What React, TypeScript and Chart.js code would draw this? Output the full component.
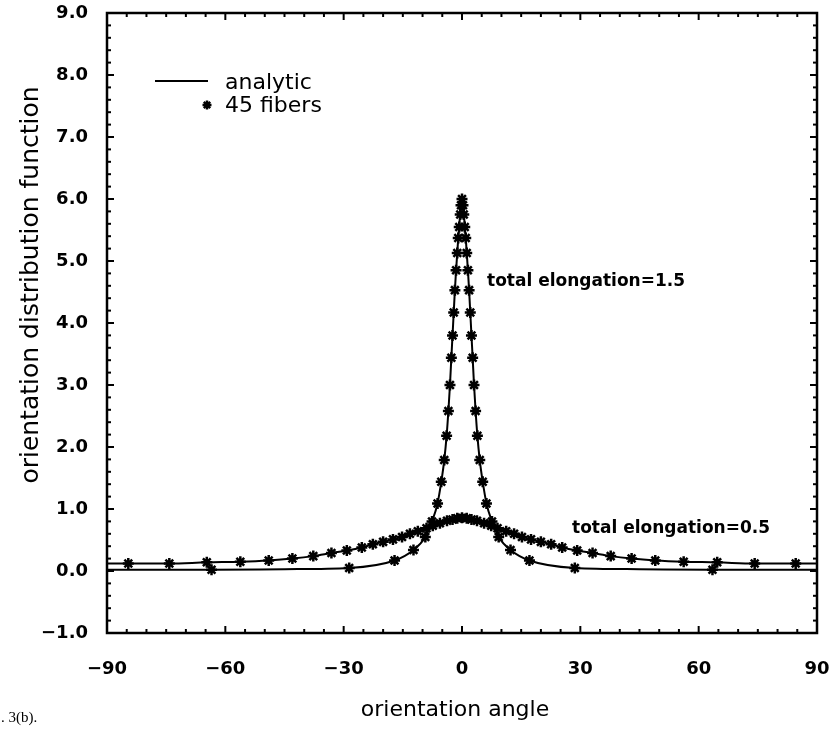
import React, { useEffect, useRef } from "react";
import { Chart, registerables } from "chart.js";

Chart.register(...registerables);

// ---- axis ticks ----
const xTickValues = [-90, -60, -30, 0, 30, 60, 90];
const yTickValues = [-1, 0, 1, 2, 3, 4, 5, 6, 7, 8, 9];

// ---- total elongation = 1.5 : 45 fibers (markers) ----
const fibersA_angle = [
  -63.5, -28.6, -17.1, -12.3, -9.3, -7.6, -6.2, -5.25, -4.5, -3.9, -3.45,
  -3.05, -2.7, -2.4, -2.1, -1.8, -1.5, -1.2, -0.95, -0.7, -0.45, -0.25,
  0,
  0.25, 0.45, 0.7, 0.95, 1.2, 1.5, 1.8, 2.1, 2.4, 2.7, 3.05, 3.45, 3.9,
  4.5, 5.25, 6.2, 7.6, 9.3, 12.3, 17.1, 28.6, 63.5,
];
const fibersA_value = [
  0.02, 0.05, 0.17, 0.34, 0.55, 0.8, 1.09, 1.44, 1.79, 2.18, 2.58,
  3.0, 3.44, 3.8, 4.17, 4.53, 4.85, 5.13, 5.37, 5.55, 5.75, 5.9,
  6.0,
  5.9, 5.75, 5.55, 5.37, 5.13, 4.85, 4.53, 4.17, 3.8, 3.44, 3.0, 2.58, 2.18,
  1.79, 1.44, 1.09, 0.8, 0.55, 0.34, 0.17, 0.05, 0.02,
];

// ---- total elongation = 0.5 : 45 fibers (markers) ----
const fibersB_angle = [
  -84.6, -74.2, -64.7, -56.2, -49.0, -43.0, -37.7, -33.1, -29.2, -25.4, -22.6,
  -20.0, -17.5, -15.2, -13.2, -11.2, -9.0, -7.4, -5.6, -3.8, -2.4, -1.2,
  0,
  1.2, 2.4, 3.8, 5.6, 7.4, 9.0, 11.2, 13.2, 15.2, 17.5, 20.0, 22.6, 25.4,
  29.2, 33.1, 37.7, 43.0, 49.0, 56.2, 64.7, 74.2, 84.6,
];
const fibersB_value = [
  0.12, 0.12, 0.14, 0.15, 0.17, 0.2, 0.24, 0.29, 0.33, 0.38, 0.43,
  0.47, 0.51, 0.55, 0.6, 0.64, 0.69, 0.73, 0.77, 0.81, 0.83, 0.85,
  0.86,
  0.85, 0.83, 0.81, 0.77, 0.73, 0.69, 0.64, 0.6, 0.55, 0.51, 0.47, 0.43, 0.38,
  0.33, 0.29, 0.24, 0.2, 0.17, 0.15, 0.14, 0.12, 0.12,
];

// ---- analytic curves ----
const analyticA_angle = [
  -90, -75, -63.5, -45, -28.6, -17.1, -12.3, -9.3, -7.6, -6.2, -5.25, -4.5,
  -3.9, -3.45, -3.05, -2.7, -2.4, -2.1, -1.8, -1.5, -1.2, -0.95, -0.7, -0.45,
  -0.25, 0, 0.25, 0.45, 0.7, 0.95, 1.2, 1.5, 1.8, 2.1, 2.4, 2.7, 3.05, 3.45,
  3.9, 4.5, 5.25, 6.2, 7.6, 9.3, 12.3, 17.1, 28.6, 45, 63.5, 75, 90,
];
const analyticA_value = [
  0.02, 0.02, 0.02, 0.03, 0.05, 0.17, 0.34, 0.55, 0.8, 1.09, 1.44, 1.79,
  2.18, 2.58, 3.0, 3.44, 3.8, 4.17, 4.53, 4.85, 5.13, 5.37, 5.57, 5.78,
  5.93, 6.05, 5.93, 5.78, 5.57, 5.37, 5.13, 4.85, 4.53, 4.17, 3.8, 3.44, 3.0, 2.58,
  2.18, 1.79, 1.44, 1.09, 0.8, 0.55, 0.34, 0.17, 0.05, 0.03, 0.02, 0.02, 0.02,
];
const analyticB_angle = [
  -90, -84.6, -74.2, -64.7, -56.2, -49.0, -43.0, -37.7, -33.1, -29.2, -25.4,
  -22.6, -20.0, -17.5, -15.2, -13.2, -11.2, -9.0, -7.4, -5.6, -3.8, -2.4, -1.2,
  0, 1.2, 2.4, 3.8, 5.6, 7.4, 9.0, 11.2, 13.2, 15.2, 17.5, 20.0, 22.6, 25.4,
  29.2, 33.1, 37.7, 43.0, 49.0, 56.2, 64.7, 74.2, 84.6, 90,
];
const analyticB_value = [
  0.12, 0.12, 0.12, 0.14, 0.15, 0.17, 0.2, 0.24, 0.29, 0.33, 0.38,
  0.43, 0.47, 0.51, 0.55, 0.6, 0.64, 0.69, 0.73, 0.77, 0.81, 0.83, 0.85,
  0.86, 0.85, 0.83, 0.81, 0.77, 0.73, 0.69, 0.64, 0.6, 0.55, 0.51, 0.47, 0.43, 0.38,
  0.33, 0.29, 0.24, 0.2, 0.17, 0.15, 0.14, 0.12, 0.12, 0.12,
];

const xTitle = "orientation angle";
const yTitle = "orientation distribution function";
const legendLine = "analytic";
const legendMarker = "45 fibers";
const labelA = "total elongation=1.5";
const labelB = "total elongation=0.5";
const figLabel = ". 3(b).";

const toPoints = (xs: number[], ys: number[]) => xs.map((x, i) => ({ x, y: ys[i] }));

const fmt = (v: number) => v.toFixed(1).replace("-", "\u2212");

const framePlugin = {
  id: "frameAndText",
  afterDraw(chart: any) {
    const { ctx, chartArea: a, scales } = chart;
    const xs = scales.x;
    const ys = scales.y;
    ctx.save();
    ctx.strokeStyle = "#000";
    ctx.fillStyle = "#000";
    ctx.lineCap = "butt";

    const seg = (x1: number, y1: number, x2: number, y2: number) => {
      ctx.beginPath();
      ctx.moveTo(x1, y1);
      ctx.lineTo(x2, y2);
      ctx.stroke();
    };

    // inward ticks on four sides
    ctx.lineWidth = 2;
    for (let i = 0; i <= 36; i++) {
      const v = -90 + i * 5;
      const px = xs.getPixelForValue(v);
      const len = i % 6 === 0 ? 7 : 4;
      seg(px, a.bottom, px, a.bottom - len);
      seg(px, a.top, px, a.top + len);
    }
    for (let i = 0; i <= 50; i++) {
      const v = -1 + i * 0.2;
      const py = ys.getPixelForValue(v);
      const len = i % 5 === 0 ? 7 : 4;
      seg(a.left, py, a.left + len, py);
      seg(a.right, py, a.right - len, py);
    }

    // frame
    ctx.lineWidth = 2.5;
    ctx.strokeRect(a.left, a.top, a.right - a.left, a.bottom - a.top);

    // tick labels
    ctx.font = "bold 18px 'DejaVu Sans'";
    ctx.textBaseline = "middle";
    ctx.textAlign = "right";
    yTickValues.forEach((v) => {
      ctx.fillText(fmt(v), a.left - 19, ys.getPixelForValue(v));
    });
    ctx.textAlign = "center";
    xTickValues.forEach((v) => {
      const s = v < 0 ? "\u2212" + Math.abs(v) : String(v);
      ctx.fillText(s, xs.getPixelForValue(v), 669);
    });

    // axis titles
    ctx.font = "22px 'DejaVu Sans'";
    ctx.textBaseline = "alphabetic";
    ctx.fillText(xTitle, 455, 716);
    ctx.save();
    ctx.translate(38, 285);
    ctx.rotate(-Math.PI / 2);
    ctx.font = "25px 'DejaVu Sans'";
    ctx.fillText(yTitle, 0, 0);
    ctx.restore();

    // legend
    ctx.lineWidth = 2;
    seg(155, 81, 208, 81);
    ctx.textAlign = "left";
    ctx.font = "22px 'DejaVu Sans'";
    ctx.fillText(legendLine, 225, 89);
    ctx.fillText(legendMarker, 225, 112);
    const sx = 207, sy = 105, r = 4.5;
    ctx.lineWidth = 2.5;
    for (let k = 0; k < 4; k++) {
      const ang = (k * Math.PI) / 4;
      seg(sx - r * Math.cos(ang), sy - r * Math.sin(ang), sx + r * Math.cos(ang), sy + r * Math.sin(ang));
    }

    // curve labels
    ctx.font = "bold 17px 'DejaVu Sans'";
    ctx.fillText(labelA, 487, 286);
    ctx.fillText(labelB, 572, 533);

    // figure caption fragment
    ctx.font = "15px 'Liberation Serif'";
    ctx.fillText(figLabel, 1, 722);

    ctx.restore();
  },
};

export default function App() {
  const ref = useRef<HTMLCanvasElement | null>(null);

  useEffect(() => {
    if (!ref.current) return;
    const lineStyle = {
      borderColor: "#000",
      backgroundColor: "#000",
      borderWidth: 2,
      pointRadius: 0,
      showLine: true,
      cubicInterpolationMode: "monotone" as const,
      fill: false,
    };
    const markerStyle = {
      borderColor: "#000",
      backgroundColor: "#000",
      borderWidth: 2.5,
      pointStyle: "star" as const,
      pointRadius: 5.5,
      showLine: false,
    };
    const chart = new Chart(ref.current, {
      type: "scatter",
      data: {
        datasets: [
          { label: "analytic 1.5", data: toPoints(analyticA_angle, analyticA_value), ...lineStyle },
          { label: "analytic 0.5", data: toPoints(analyticB_angle, analyticB_value), ...lineStyle },
          { label: "45 fibers 1.5", data: toPoints(fibersA_angle, fibersA_value), ...markerStyle },
          { label: "45 fibers 0.5", data: toPoints(fibersB_angle, fibersB_value), ...markerStyle },
        ],
      },
      options: {
        animation: false,
        responsive: false,
        devicePixelRatio: 1,
        layout: { padding: { left: 107, right: 15, top: 13, bottom: 98 } },
        plugins: { legend: { display: false }, tooltip: { enabled: false } },
        scales: {
          x: { type: "linear", min: -90, max: 90, display: false },
          y: { type: "linear", min: -1, max: 9, display: false },
        },
      },
      plugins: [framePlugin],
    });
    return () => chart.destroy();
  }, []);

  return (
    <div style={{ position: "fixed", left: 0, top: 0, width: 832, height: 731, background: "#fff" }}>
      <canvas ref={ref} width={832} height={731} style={{ display: "block" }} />
    </div>
  );
}
